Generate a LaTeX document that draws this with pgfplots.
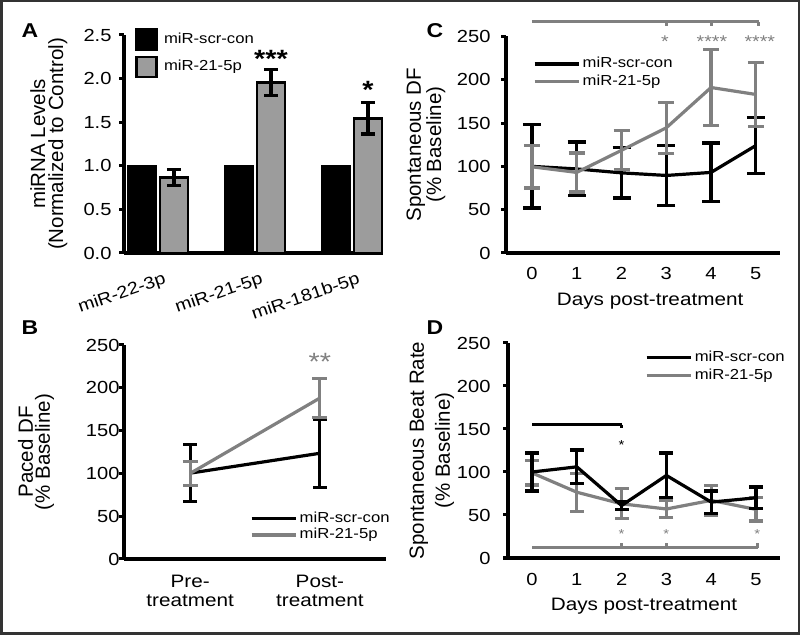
\documentclass[border=0pt]{standalone}
\usepackage{fontspec}
\setmainfont{Liberation Sans}[FakeStretch=1.15]
\newfontfamily\plainfont{Liberation Sans}
\usepackage{pgfplots}
\pgfplotsset{compat=1.18}

\definecolor{lgray}{HTML}{808080}
\definecolor{bgray}{HTML}{9C9C9C}

\newcommand{\fs}[2]{\fontsize{#1bp}{#2bp}\selectfont}

\pgfplotsset{
  panel/.style={
    scale only axis,
    axis lines=left,
    axis line style={-, line width=3.5bp},
    tick align=outside,
    major tick length=5bp,
    every tick/.style={black, line width=3bp},
    xtick style={draw=none},
    tick label style={font=\fs{17.5}{20}},
    /pgf/number format/assume math mode=true,
    clip=false,
    legend cell align=left,
    legend style={draw=none, fill=none, inner sep=0pt, outer sep=0pt,
      font=\fs{14.5}{17}, column sep=2bp,
      nodes={inner sep=0.5bp, text height=10.5bp, text depth=3bp}},
  },
  linelegend/.style={legend image code/.code={\draw[##1, line width=3.2bp] (0bp,0bp) -- (44bp,0bp);}},
  ylab/.style 2 args={every axis y label/.style={at={(axis description cs:#1,0.5)}, rotate=90, anchor=center, align=center, font=\plainfont\fs{20.5}{#2}}},
  ebar/.style 2 args={error bars/.cd, y dir=both, y explicit,
    error bar style={line width=3.2bp, #1},
    error mark options={rotate=90, line width=3.2bp, #1, mark size=#2},
    /pgfplots/.cd},
}

\begin{document}
\begin{tikzpicture}
\path[use as bounding box] (0,0) rectangle (800bp,635bp);
\draw[line width=2.5bp, black!80] (1.25bp,1.25bp) rectangle (798.75bp,633.75bp);

% panel letters
\node[font=\bfseries\fs{20}{20}] at (30bp,604bp) {A};
\node[font=\bfseries\fs{20}{20}] at (30bp,307bp) {B};
\node[font=\bfseries\fs{20}{20}] at (435bp,604bp) {C};
\node[font=\bfseries\fs{20}{20}] at (435bp,307bp) {D};

% ---------- A ----------
\begin{axis}[panel,
  at={(124bp,382bp)}, anchor=south west,
  width=259bp, height=218bp,
  xmin=-0.35, xmax=2.32, ymin=0, ymax=2.5,
  ytick={0,0.5,...,2.5},
  yticklabel style={xshift=-4bp, /pgf/number format/.cd, fixed, fixed zerofill, precision=1},
  xtick={0,1,2},
  xticklabels={miR-22-3p, miR-21-5p, miR-181b-5p},
  xticklabel style={font=\fs{17}{18}, xshift=7bp, yshift=-9bp, rotate=19, anchor=north east},
  ylab={-0.29}{18},
  ylabel={miRNA Levels\\(Normalized to Control)},
  legend image code/.code={\draw[#1] (0bp,-10bp) rectangle (20bp,10bp);},
  legend style={at={(axis description cs:0.0425,1.032)}, anchor=north west, row sep=5bp, column sep=6bp},
]
\addplot[ybar, bar width=0.289, bar shift=0, fill=black, draw=black, line width=2.5bp]
  coordinates {(-0.165,1.0) (0.835,1.0) (1.835,1.0)};
\addplot[ybar, bar width=0.289, bar shift=0, fill=bgray, draw=black, line width=2.5bp, ebar={black}{7bp}]
  coordinates {(0.165,0.866) +- (0,0.095) (1.165,1.955) +- (0,0.15) (2.165,1.545) +- (0,0.18)};
\legend{miR-scr-con, miR-21-5p}
\node[font=\bfseries\fs{25}{25}, yshift=-5.4bp] at (axis cs:1.165,2.29) {***};
\node[font=\bfseries\fs{25}{25}, yshift=-5.4bp] at (axis cs:2.165,1.93) {*};
\end{axis}

% ---------- B ----------
\begin{axis}[panel, linelegend,
  at={(124bp,76bp)}, anchor=south west,
  width=262bp, height=214bp,
  xmin=-0.51, xmax=1.51, ymin=0, ymax=250,
  ytick={0,50,...,250},
  yticklabel style={xshift=4bp},
  xtick={0,1},
  xticklabels={Pre-\\treatment, Post-\\treatment},
  xticklabel style={align=center, font=\fs{18}{18.5}, yshift=-8bp},
  ylab={-0.336}{17},
  ylabel={Paced DF\\(\% Baseline)},
  legend style={at={(axis description cs:0.481,0.224)}, anchor=north west, row sep=2.2bp},
]
\addplot[black, line width=3.2bp, ebar={black}{7bp}]
  coordinates {(0,100.3) +- (0,33) (1,123.5) +- (0,40)};
\addplot[lgray, line width=3.2bp, ebar={lgray}{7.5bp}]
  coordinates {(0,100) +- (0,14) (1,188) +- (0,23)};
\legend{miR-scr-con, miR-21-5p}
\node[font=\fs{25}{25}, text=lgray, yshift=-5.4bp] at (axis cs:1,236) {**};
\end{axis}

% ---------- C ----------
\begin{axis}[panel, linelegend,
  at={(506bp,382bp)}, anchor=south west,
  width=274bp, height=216.6bp,
  xmin=-0.58, xmax=5.54, ymin=0, ymax=250,
  ytick={0,50,...,250},
  yticklabel style={xshift=-7bp},
  xtick={0,...,5},
  xticklabel style={yshift=-5.6bp},
  ylab={-0.292}{18},
  ylabel={Spontaneous DF\\(\% Baseline)},
  xlabel={Days post-treatment},
  every axis x label/.style={at={(axis description cs:0.526,0)}, anchor=base, yshift=-53bp, font=\fs{18}{20}},
  legend style={at={(axis description cs:0.0985,0.906)}, anchor=north west, row sep=3bp},
]
\addplot[black, line width=3.2bp, ebar={black}{9bp}]
  coordinates {(0,100) +- (0,48) (1,97) +- (0,31) (2,92.5) +- (0,29)
               (3,89.5) +- (0,34.5) (4,93) +- (0,34) (5,124) +- (0,32)};
\addplot[lgray, line width=3.2bp, ebar={lgray}{8bp}]
  coordinates {(0,99.5) +- (0,24.5) (1,93) +- (0,22.5) (2,118.5) +- (0,22.5)
               (3,144.5) +- (0,29.5) (4,191) +- (0,44) (5,183) +- (0,37)};
\legend{miR-scr-con, miR-21-5p}
% significance bracket
\addplot[lgray, line width=3bp, forget plot] coordinates {(0,266.7) (5.07,266.7)};
\addplot[lgray, line width=3bp, forget plot] coordinates {(3,266.7) (3,262.3)};
\addplot[lgray, line width=3bp, forget plot] coordinates {(4,266.7) (4,262.3)};
\addplot[lgray, line width=3bp, forget plot] coordinates {(5.05,266.7) (5.05,262.3)};
\node[font=\fs{17}{17}, text=lgray, yshift=-3.7bp] at (axis cs:2.97,248.3) {*};
\node[font=\fs{17}{17}, text=lgray, yshift=-3.7bp] at (axis cs:4.02,248.3) {****};
\node[font=\fs{17}{17}, text=lgray, yshift=-3.7bp] at (axis cs:5.09,248.3) {****};
\end{axis}

% ---------- D ----------
\begin{axis}[panel, linelegend,
  at={(508bp,77bp)}, anchor=south west,
  width=272bp, height=215bp,
  xmin=-0.536, xmax=5.536, ymin=0, ymax=250,
  ytick={0,50,...,250},
  yticklabel style={xshift=-9bp},
  xtick={0,...,5},
  xticklabel style={yshift=-7bp},
  ylab={-0.28}{26},
  ylabel={Spontaneous Beat Rate\\(\% Baseline)},
  xlabel={Days post-treatment},
  every axis x label/.style={at={(axis description cs:0.5,0)}, anchor=base, yshift=-52bp, font=\fs{18}{20}},
  legend style={at={(axis description cs:0.504,0.965)}, anchor=north west, row sep=3bp},
]
\addplot[lgray, line width=3.2bp, forget plot, ebar={lgray}{7bp}]
  coordinates {(0,99) +- (0,14) (1,76.5) +- (0,22) (2,63) +- (0,17.5)
               (3,57) +- (0,10) (4,67) +- (0,17) (5,56.5) +- (0,13.5)};
\addplot[black, line width=3.2bp, ebar={black}{7bp}]
  coordinates {(0,100) +- (0,22) (1,106) +- (0,19.5) (2,61) +- (0,5)
               (3,96) +- (0,26) (4,65) +- (0,13) (5,70) +- (0,12.5)};
\addlegendimage{lgray, line width=3.2bp}
\legend{miR-scr-con, miR-21-5p}
% significance brackets
\addplot[black, line width=3bp, forget plot] coordinates {(0,155) (2,155)};
\addplot[black, line width=3bp, forget plot] coordinates {(2,155) (2,151)};
\addplot[lgray, line width=3bp, forget plot] coordinates {(0,12.2) (5.05,12.2)};
\addplot[lgray, line width=3bp, forget plot] coordinates {(2,12.2) (2,17.5)};
\addplot[lgray, line width=3bp, forget plot] coordinates {(3,12.2) (3,17.5)};
\addplot[lgray, line width=3bp, forget plot] coordinates {(5.03,12.2) (5.03,17.5)};
\node[font=\fs{13}{13}, yshift=-2.8bp] at (axis cs:2,135) {*};
\node[font=\fs{13}{13}, text=lgray, yshift=-2.8bp] at (axis cs:2,31.5) {*};
\node[font=\fs{13}{13}, text=lgray, yshift=-2.8bp] at (axis cs:3,31.5) {*};
\node[font=\fs{13}{13}, text=lgray, yshift=-2.8bp] at (axis cs:5.03,31.5) {*};
\end{axis}
\end{tikzpicture}
\end{document}
